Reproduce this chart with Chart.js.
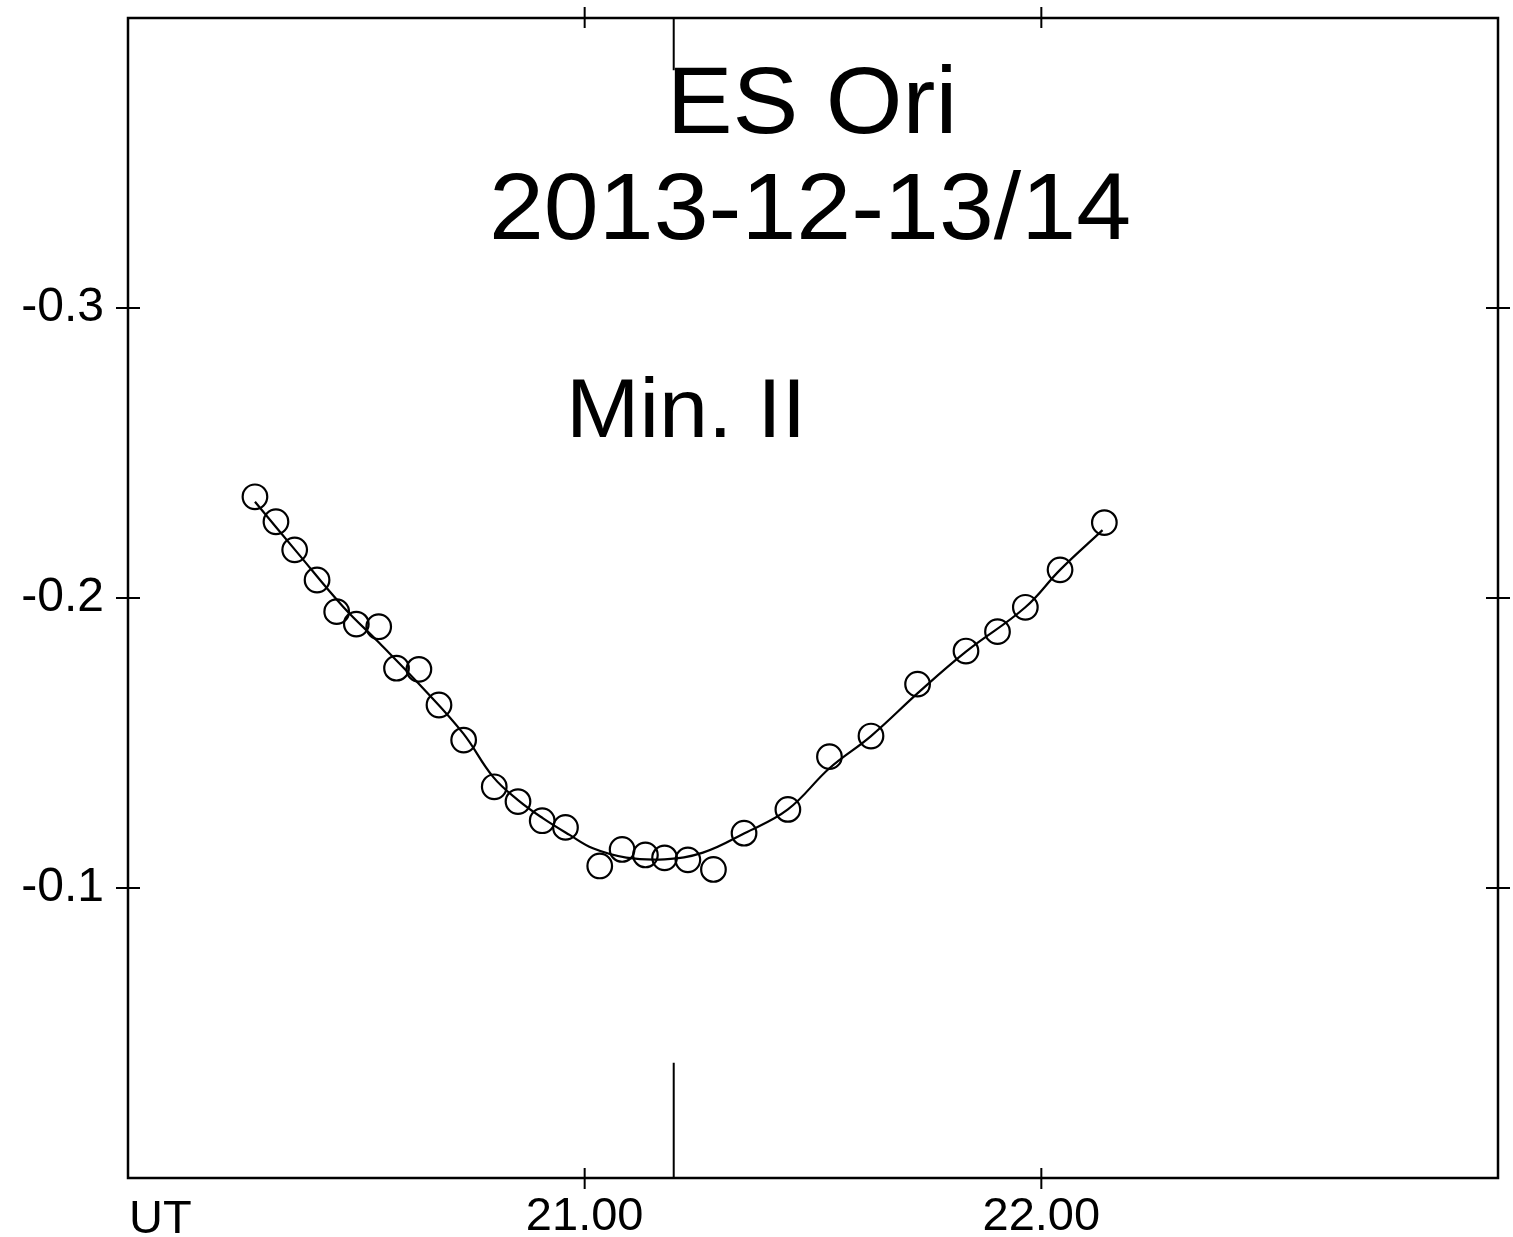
<!DOCTYPE html>
<html><head><meta charset="utf-8">
<style>html,body{margin:0;padding:0;background:#fff;} #wrap{width:1513px;height:1237px;position:relative;}</style>
<script src="https://cdn.jsdelivr.net/npm/chart.js@4.4.0/dist/chart.umd.min.js"></script>
</head><body><div id="wrap"><canvas id="c"></canvas></div>
<script>
// Observations (UT hours, differential magnitude)
const obsTime = [20.278,20.324,20.365,20.414,20.457,20.500,20.549,20.588,20.637,20.681,20.735,20.802,20.854,20.907,20.958,21.033,21.082,21.133,21.175,21.226,21.282,21.349,21.445,21.536,21.627,21.729,21.835,21.904,21.965,22.041,22.138];
const obsMag  = [-0.2349,-0.2263,-0.2166,-0.2062,-0.1953,-0.1910,-0.1901,-0.1758,-0.1754,-0.1631,-0.1510,-0.1349,-0.1298,-0.1232,-0.1209,-0.1076,-0.1133,-0.1114,-0.1104,-0.1097,-0.1064,-0.1189,-0.1271,-0.1453,-0.1524,-0.1703,-0.1817,-0.1884,-0.1968,-0.2097,-0.2260];
// Fitted curve
const fitTime = [20.278,20.369,20.471,20.551,20.646,20.734,20.799,20.854,20.909,20.967,21.018,21.091,21.175,21.259,21.350,21.445,21.536,21.627,21.733,21.835,21.965,22.041,22.134];
const fitMag  = [-0.2332,-0.2160,-0.1970,-0.1844,-0.1689,-0.1533,-0.1384,-0.1303,-0.1240,-0.1183,-0.1137,-0.1105,-0.1099,-0.1122,-0.1189,-0.1271,-0.1413,-0.1524,-0.1677,-0.1815,-0.1968,-0.2097,-0.2234];
const xTickValues = [21, 22];
const xTickLabels = ['21.00', '22.00'];
const yTickValues = [-0.3, -0.2, -0.1];
const yTickLabels = ['-0.3', '-0.2', '-0.1'];
const xUnitLabel = 'UT';
const minTime = 21.195;
const titleLines = ['ES Ori', '2013-12-13/14'];
const minLabel = 'Min. II';

const FONT = '"Liberation Sans", Arial, sans-serif';

function labelFor(vals, labels, v) {
  for (let i = 0; i < vals.length; i++) if (Math.abs(vals[i] - v) < 1e-9) return labels[i];
  return '';
}

const framePlugin = {
  id: 'frame',
  afterDraw(chart) {
    const ctx = chart.ctx, a = chart.chartArea;
    const xs = chart.scales.x, ys = chart.scales.y;
    ctx.save();
    ctx.strokeStyle = '#000';
    ctx.lineWidth = 2.5;
    ctx.strokeRect(a.left, a.top, a.right - a.left, a.bottom - a.top);
    ctx.lineWidth = 2;
    ctx.beginPath();
    yTickValues.forEach(v => {
      const py = ys.getPixelForValue(v);
      ctx.moveTo(a.left - 12, py); ctx.lineTo(a.left + 12, py);
      ctx.moveTo(a.right - 12, py); ctx.lineTo(a.right + 12, py);
    });
    xTickValues.forEach(v => {
      const px = xs.getPixelForValue(v);
      ctx.moveTo(px, a.top - 11); ctx.lineTo(px, a.top + 10);
      ctx.moveTo(px, a.bottom - 10); ctx.lineTo(px, a.bottom + 11);
    });
    // time of minimum marker
    const mx = xs.getPixelForValue(minTime);
    ctx.moveTo(mx, ys.getPixelForValue(-0.4)); ctx.lineTo(mx, ys.getPixelForValue(-0.382));
    ctx.moveTo(mx, ys.getPixelForValue(-0.0397)); ctx.lineTo(mx, ys.getPixelForValue(0));
    ctx.stroke();

    ctx.fillStyle = '#000';
    ctx.textBaseline = 'alphabetic';
    // UT label
    ctx.font = '47px ' + FONT;
    ctx.textAlign = 'left';
    ctx.fillText(xUnitLabel, a.left + 1, 1233);
    // titles
    ctx.textAlign = 'center';
    ctx.font = '94px ' + FONT;
    const drawScaled = (txt, x, y, sx) => {
      ctx.save(); ctx.translate(x, y); ctx.scale(sx, 1); ctx.fillText(txt, 0, 0); ctx.restore();
    };
    drawScaled(titleLines[0], 812, 133, 1.05);
    drawScaled(titleLines[1], 810, 239, 1.05);
    ctx.font = '84px ' + FONT;
    ctx.textAlign = 'left';
    drawScaled(minLabel, 566, 437, 1.05);
    ctx.restore();
  }
};

new Chart(document.getElementById('c'), {
  type: 'scatter',
  data: {
    datasets: [
      {
        label: 'fit',
        data: fitTime.map((t, i) => ({x: t, y: fitMag[i]})),
        showLine: true,
        borderColor: '#000',
        borderWidth: 2.2,
        pointRadius: 0,
        tension: 0.4,
        fill: false
      },
      {
        label: 'obs',
        data: obsTime.map((t, i) => ({x: t, y: obsMag[i]})),
        showLine: false,
        pointStyle: 'circle',
        pointRadius: 12.3,
        pointBorderWidth: 2.2,
        pointBorderColor: '#000',
        pointBackgroundColor: 'rgba(0,0,0,0)',
        borderColor: '#000',
        backgroundColor: 'rgba(0,0,0,0)'
      }
    ]
  },
  options: {
    responsive: true,
    maintainAspectRatio: false,
    animation: false,
    devicePixelRatio: 1,
    layout: {padding: {top: 18, right: 15, left: 0, bottom: 0}},
    plugins: {legend: {display: false}, tooltip: {enabled: false}, title: {display: false}},
    scales: {
      x: {
        type: 'linear', min: 20, max: 23,
        afterBuildTicks: s => { s.ticks = [20, 21, 22, 23].map(v => ({value: v})); },
        ticks: {
          autoSkip: false, maxRotation: 0, padding: 11, color: '#000',
          font: {family: FONT, size: 47},
          callback: v => labelFor(xTickValues, xTickLabels, v)
        },
        grid: {display: false, drawTicks: false},
        border: {display: false},
        afterFit: s => { s.height = 59; s.paddingLeft = 0; s.paddingRight = 0; }
      },
      y: {
        type: 'linear', min: -0.4, max: 0, reverse: true,
        afterBuildTicks: s => { s.ticks = [-0.4, -0.3, -0.2, -0.1, 0].map(v => ({value: v})); },
        ticks: {
          autoSkip: false, padding: 24, color: '#000',
          font: {family: FONT, size: 48},
          callback: v => labelFor(yTickValues, yTickLabels, v)
        },
        grid: {display: false, drawTicks: false},
        border: {display: false},
        afterFit: s => { s.width = 128; s.paddingTop = 0; s.paddingBottom = 0; }
      }
    }
  },
  plugins: [framePlugin]
});
</script>
</body></html>
